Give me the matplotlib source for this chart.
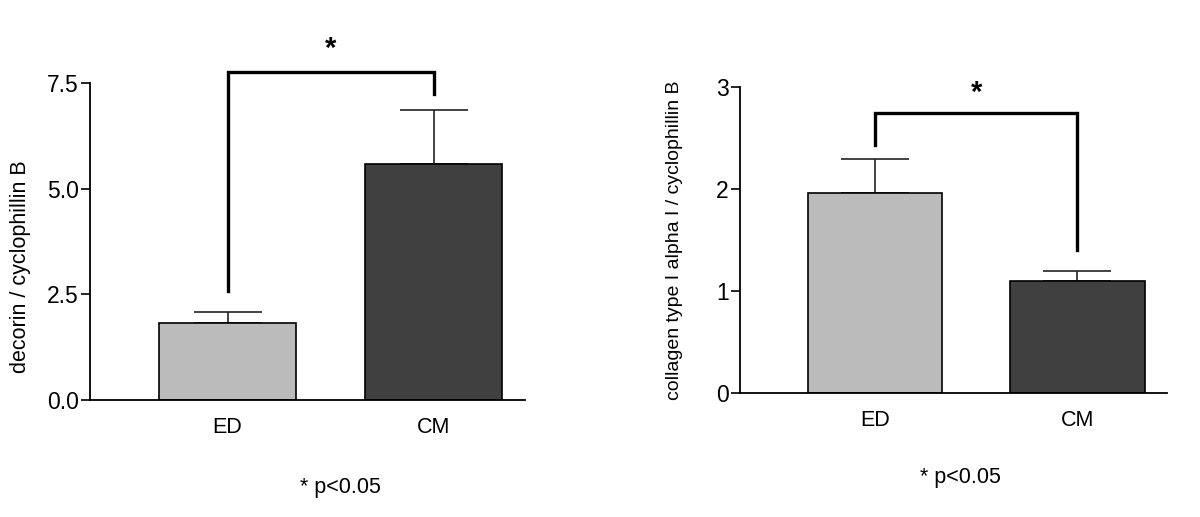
import matplotlib
matplotlib.use('Agg')
import matplotlib.pyplot as plt

plt.rcParams['font.family'] = ['Liberation Sans', 'DejaVu Sans']

# DATA
groups = ['ED', 'CM']
decorin_mean = [1.81, 5.58]
decorin_sem = [0.27, 1.28]
collagen_mean = [1.96, 1.10]
collagen_sem = [0.33, 0.10]

# significance brackets: (bar top, left leg end, right leg end)
decorin_bracket = [7.75, 2.58, 7.25]
collagen_bracket = [2.745, 2.43, 1.40]

bar_colors = ['#bbbbbb', '#404040']

fig = plt.figure(figsize=(12, 5.17), dpi=100)


def draw_panel(ax, means, sems, bracket, ylim, yticks, yticklabels, ylabel,
               label_size, star_y):
    x = list(range(len(groups)))
    ax.bar(x, means, width=0.665, color=bar_colors, edgecolor='black',
           linewidth=1.2, zorder=2)
    ax.errorbar(x, means, yerr=[[0] * len(sems), sems], fmt='none',
                ecolor='#222222', elinewidth=1.2, capsize=24.5, capthick=1.2,
                zorder=1)

    # bracket
    top, left_end, right_end = bracket
    ax.plot([0, 0, 1, 1], [left_end, top, top, right_end], color='black',
            linewidth=2.4, solid_joinstyle='miter', clip_on=False, zorder=3)
    ax.text(0.5, star_y, '*', ha='center', va='center', fontsize=21,
            fontweight='bold', transform=ax.transData, clip_on=False)

    ax.set_xlim(-0.667, 1.443)
    ax.set_ylim(*ylim)
    ax.set_yticks(yticks)
    ax.set_yticklabels(yticklabels)
    ax.set_xticks(x)
    ax.set_xticklabels(groups)
    ax.set_ylabel(ylabel, fontsize=label_size)

    for s in ['top', 'right']:
        ax.spines[s].set_visible(False)
    for s in ['left', 'bottom']:
        ax.spines[s].set_linewidth(1.3)
    ax.tick_params(axis='y', length=6.5, width=1.2, pad=1.5, labelsize=16.5)
    ax.tick_params(axis='x', length=0, pad=12, labelsize=15.5)


ax1 = fig.add_axes([0.075, 0.2263, 0.3625, 0.6132])
draw_panel(ax1, decorin_mean, decorin_sem, decorin_bracket, (0, 7.5),
           [0, 2.5, 5.0, 7.5], ['0.0', '2.5', '5.0', '7.5'],
           'decorin / cyclophillin B', 15.5, 8.3)
ax1.yaxis.set_label_coords(-0.136, 0.42)

ax2 = fig.add_axes([0.6167, 0.2393, 0.3558, 0.5925])
draw_panel(ax2, collagen_mean, collagen_sem, collagen_bracket, (0, 3),
           [0, 1, 2, 3], ['0', '1', '2', '3'],
           'collagen type I alpha I / cyclophillin B', 14, 2.94)
ax2.yaxis.set_label_coords(-0.133, 0.5)

fig.text(340 / 1200, 1 - 488 / 517, '* p<0.05', ha='center', va='center', fontsize=15.5)
fig.text(960 / 1200, 1 - 478 / 517, '* p<0.05', ha='center', va='center', fontsize=15.5)

fig.savefig('out.png', dpi=100)
